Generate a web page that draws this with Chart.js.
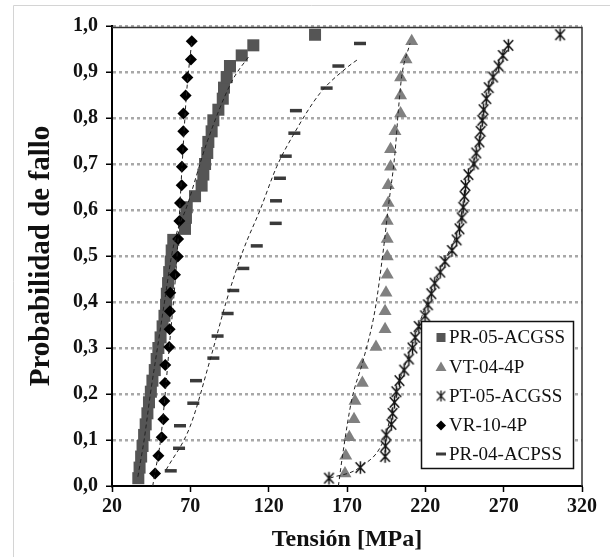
<!DOCTYPE html>
<html>
<head>
<meta charset="utf-8">
<script src="https://cdn.jsdelivr.net/npm/chart.js@4.4.1/dist/chart.umd.min.js"></script>
<style>
  html, body { margin: 0; padding: 0; background: #fff; }
  #wrap { width: 610px; height: 557px; }
</style>
</head>
<body>
<div id="wrap"><canvas id="weibull" width="610" height="557"></canvas></div>
<script>
// probabilidad de fallo (rangos) por serie
var rank42 = [0.017, 0.040, 0.064, 0.087, 0.111, 0.134, 0.158, 0.182, 0.205, 0.229,
              0.252, 0.276, 0.300, 0.323, 0.347, 0.370, 0.394, 0.418, 0.441, 0.465,
              0.488, 0.512, 0.535, 0.559, 0.583, 0.606, 0.630, 0.653, 0.677, 0.700,
              0.724, 0.748, 0.771, 0.795, 0.818, 0.842, 0.866, 0.889, 0.913, 0.936,
              0.958, 0.981];
var rank25 = [0.027, 0.066, 0.106, 0.145, 0.185, 0.224, 0.263, 0.302, 0.341, 0.380,
              0.420, 0.459, 0.499, 0.537, 0.576, 0.615, 0.654, 0.694, 0.732, 0.771,
              0.810, 0.849, 0.888, 0.927, 0.967];
var rank20 = [0.033, 0.082, 0.131, 0.180, 0.229, 0.278, 0.326, 0.375, 0.425, 0.473,
              0.522, 0.571, 0.620, 0.669, 0.717, 0.767, 0.816, 0.865, 0.913, 0.962];

// tensiones de rotura [MPa]
var pr05 = [36.8, 37.6, 38.6, 39.5, 40.5, 41.5, 42.6, 43.6, 44.8, 45.8,
            47.3, 48.5, 49.6, 51.0, 52.3, 53.5, 54.5, 55.0, 55.8, 56.5,
            57.5, 58.1, 59.1, 66.6, 67.2, 67.7, 73.0, 77.2, 78.3, 79.4,
            80.8, 81.5, 83.6, 84.7, 87.9, 90.7, 91.5, 93.2, 95.3, 102.8,
            110.2, 149.6];
var vt04 = [168.7, 169.2, 171.5, 174.5, 175.1, 179.8, 179.8, 188.5, 194.3, 194.3,
            194.9, 195.7, 195.7, 195.7, 195.7, 196.3, 196.3, 197.8, 197.8, 200.6,
            204.2, 204.2, 204.2, 207.7, 211.3];
var pt05 = [158.5, 178.5, 194.3, 194.5, 195.0, 198.3, 199.1, 200.3, 201.5, 203.5,
            206.5, 209.5, 211.8, 213.5, 215.8, 219.8, 221.7, 223.8, 226.0, 229.5,
            232.5, 237.0, 240.0, 241.8, 243.3, 244.2, 245.0, 245.6, 247.5, 251.0,
            252.5, 254.5, 255.3, 256.3, 257.2, 258.9, 260.5, 263.2, 266.8, 269.5,
            273.0, 306.0];
var vr10 = [47.5, 49.6, 51.7, 52.8, 53.4, 53.8, 54.0, 56.5, 56.8, 57.0,
            57.2, 60.2, 62.0, 62.2, 63.0, 63.4, 64.5, 64.6, 64.9, 65.5,
            65.6, 67.0, 68.1, 70.4, 70.9];
var pr04 = [57.5, 62.8, 63.4, 71.9, 73.6, 84.7, 87.4, 93.8, 97.4, 103.8,
            112.4, 124.5, 124.7, 127.2, 130.9, 136.4, 137.4, 157.0, 164.5, 178.3];

// curvas de ajuste (tension, probabilidad)
var fitPr05X = [36.5, 40.5, 44.5, 49.0, 53.5, 58.0, 61.3, 67.7, 80.4, 96.4, 108.0];
var fitPr05Y = [0.02, 0.10, 0.20, 0.30, 0.40, 0.50, 0.55, 0.607, 0.745, 0.879, 0.937];
var fitVr10X = [46.0, 47.5, 51.0, 56.5, 61.5, 64.8, 67.5, 71.0];
var fitVr10Y = [0.00, 0.03, 0.10, 0.30, 0.50, 0.70, 0.85, 0.97];
var fitPr04X = [54.5, 69.8, 82.6, 93.2, 103.8, 114.5, 125.1, 135.7, 152.8, 170.8, 177.2];
var fitPr04Y = [0.035, 0.129, 0.274, 0.404, 0.513, 0.600, 0.694, 0.763, 0.854, 0.912, 0.928];
var fitVt04X = [164.5, 167.4, 173.0, 180.4, 187.9, 193.2, 196.4, 200.6, 202.8, 204.9, 210.2];
var fitVt04Y = [0.0, 0.072, 0.187, 0.274, 0.383, 0.513, 0.607, 0.723, 0.817, 0.89, 0.962];
var fitPt05X = [159.0, 178.3, 194.3, 201.7, 211.3, 217.7, 231.5, 241.0, 247.0, 254.5, 260.0, 266.0, 272.0];
var fitPt05Y = [0.017, 0.041, 0.107, 0.209, 0.303, 0.368, 0.484, 0.56, 0.66, 0.75, 0.85, 0.91, 0.955];

var seriesNames = ['PR-05-ACGSS', 'VT-04-4P', 'PT-05-ACGSS', 'VR-10-4P', 'PR-04-ACPSS'];
var xTickLabels = ['20', '70', '120', '170', '220', '270', '320'];
var yTickLabels = ['0,0', '0,1', '0,2', '0,3', '0,4', '0,5', '0,6', '0,7', '0,8', '0,9', '1,0'];

function pts(xs, ys) {
    return xs.map(function (x, i) { return { x: x, y: ys[i] }; });
}

// asterisco tipo Excel: aspa + trazo vertical
function starIcon(size, lw) {
    var c = document.createElement('canvas');
    c.width = size; c.height = size;
    var g = c.getContext('2d');
    var m = size / 2, a = size * 0.32, h = size * 0.42;
    g.strokeStyle = '#111';
    g.lineWidth = lw;
    g.beginPath();
    g.moveTo(m - a, m - h * 0.85); g.lineTo(m + a, m + h * 0.85);
    g.moveTo(m + a, m - h * 0.85); g.lineTo(m - a, m + h * 0.85);
    g.moveTo(m, m - h); g.lineTo(m, m + h);
    g.stroke();
    return c;
}
var star = starIcon(15, 1.5);
var starSmall = starIcon(13, 1.3);

function fitLine(xs, ys) {
    return {
        type: 'line', data: pts(xs, ys), showLine: true, pointRadius: 0,
        borderColor: '#222', borderWidth: 1, borderDash: [4, 3],
        cubicInterpolationMode: 'monotone', fill: false, order: 0
    };
}

var frame = {
    id: 'frame',
    beforeDraw: function (chart) {
        var ctx = chart.ctx;
        ctx.save();
        ctx.fillStyle = '#fff';
        ctx.fillRect(0, 0, chart.width, chart.height);
        ctx.strokeStyle = '#d4d4d4';
        ctx.lineWidth = 1;
        ctx.beginPath();
        ctx.moveTo(13.5, chart.height); ctx.lineTo(13.5, 5.5); ctx.lineTo(chart.width, 5.5);
        ctx.stroke();
        ctx.restore();
    },
    beforeDatasetsDraw: function (chart) {
        var a = chart.chartArea, ctx = chart.ctx;
        ctx.save();
        ctx.strokeStyle = '#333';
        ctx.lineWidth = 1.5;
        ctx.beginPath();
        ctx.moveTo(a.left, a.top + 1.5); ctx.lineTo(a.right, a.top + 1.5); ctx.lineTo(a.right, a.bottom);
        ctx.stroke();
        ctx.restore();
    }
};

// leyenda dentro del area de trazado
var boxLegend = {
    id: 'boxLegend',
    afterDraw: function (chart) {
        var ctx = chart.ctx;
        var bx = 421.5, by = 321.5, bw = 152, bh = 147;
        var rows = [337.5, 367, 396, 425.5, 454];
        ctx.save();
        ctx.fillStyle = '#fff';
        ctx.fillRect(bx, by, bw, bh);
        ctx.strokeStyle = '#111';
        ctx.lineWidth = 1.5;
        ctx.strokeRect(bx, by, bw, bh);
        var mx = 441;
        rows.forEach(function (y, i) {
            ctx.beginPath();
            if (i === 0) {
                ctx.fillStyle = '#555';
                ctx.fillRect(mx - 4.5, y - 4.5, 9, 9);
            } else if (i === 1) {
                ctx.fillStyle = '#808080';
                ctx.moveTo(mx, y - 5.5); ctx.lineTo(mx + 5.5, y + 4); ctx.lineTo(mx - 5.5, y + 4);
                ctx.closePath(); ctx.fill();
            } else if (i === 2) {
                ctx.drawImage(starSmall, mx - 6.5, y - 6.5);
            } else if (i === 3) {
                ctx.fillStyle = '#000';
                ctx.moveTo(mx, y - 5); ctx.lineTo(mx + 5, y); ctx.lineTo(mx, y + 5); ctx.lineTo(mx - 5, y);
                ctx.closePath(); ctx.fill();
            } else {
                ctx.fillStyle = '#3a3a3a';
                ctx.fillRect(mx - 5, y - 1.5, 10, 3);
            }
            ctx.fillStyle = '#111';
            ctx.font = '19px "Liberation Serif"';
            ctx.textBaseline = 'middle';
            ctx.textAlign = 'left';
            ctx.fillText(seriesNames[i], 449, y + 1);
        });
        ctx.restore();
    }
};

var serifBold = function (size) {
    return { family: 'Liberation Serif', size: size, weight: 'bold' };
};

new Chart(document.getElementById('weibull'), {
    type: 'scatter',
    data: {
        datasets: [
            fitLine(fitPr05X, fitPr05Y),
            fitLine(fitVr10X, fitVr10Y),
            fitLine(fitPr04X, fitPr04Y),
            fitLine(fitVt04X, fitVt04Y),
            fitLine(fitPt05X, fitPt05Y),
            {
                label: seriesNames[0], data: pts(pr05, rank42), pointStyle: 'rect',
                pointRadius: 8.5, backgroundColor: '#555', borderColor: '#555', borderWidth: 0, order: 5
            },
            {
                label: seriesNames[1], data: pts(vt04, rank25), pointStyle: 'triangle',
                pointRadius: 7.5, backgroundColor: '#808080', borderColor: '#808080', borderWidth: 0, order: 4
            },
            {
                label: seriesNames[2], data: pts(pt05, rank42), pointStyle: star,
                pointRadius: 7, order: 3
            },
            {
                label: seriesNames[3], data: pts(vr10, rank25), pointStyle: 'rectRot',
                pointRadius: 6, backgroundColor: '#000', borderColor: '#000', borderWidth: 0, order: 2
            },
            {
                label: seriesNames[4], data: pts(pr04, rank20), pointStyle: 'line',
                pointRadius: 6, borderColor: '#3a3a3a', borderWidth: 3.5, order: 1
            }
        ]
    },
    options: {
        responsive: false,
        animation: false,
        layout: { padding: { left: 0, top: 26, right: 28, bottom: 0 } },
        plugins: { legend: { display: false }, tooltip: { enabled: false } },
        scales: {
            x: {
                type: 'linear', min: 20, max: 320,
                ticks: {
                    stepSize: 50, color: '#111', font: serifBold(20), padding: 3,
                    callback: function (v, i) { return xTickLabels[i]; }
                },
                grid: { drawOnChartArea: false, tickLength: 6, tickColor: '#000', tickWidth: 1.5 },
                border: { color: '#000', width: 2 },
                title: {
                    display: true, text: 'Tensión [MPa]', color: '#111',
                    font: serifBold(24), padding: { top: 0, bottom: 3 }
                },
                afterFit: function (s) { s.height = 71; }
            },
            y: {
                type: 'linear', min: 0, max: 1,
                ticks: {
                    stepSize: 0.1, color: '#111', font: serifBold(20), padding: 8,
                    callback: function (v, i) { return yTickLabels[i]; }
                },
                grid: {
                    color: function (c) { return c.index === 0 ? 'rgba(0,0,0,0)' : '#a8a8a8'; },
                    lineWidth: 2.5, tickLength: 6, tickColor: '#000', tickWidth: 1.5
                },
                border: { color: '#000', width: 2, dash: [3, 3] },
                title: {
                    display: true, text: 'Probabilidad de fallo', color: '#111',
                    font: serifBold(29), padding: { top: 24, bottom: 0 }
                },
                afterFit: function (s) { s.width = 112; }
            }
        }
    },
    plugins: [frame, boxLegend]
});
</script>
</body>
</html>
